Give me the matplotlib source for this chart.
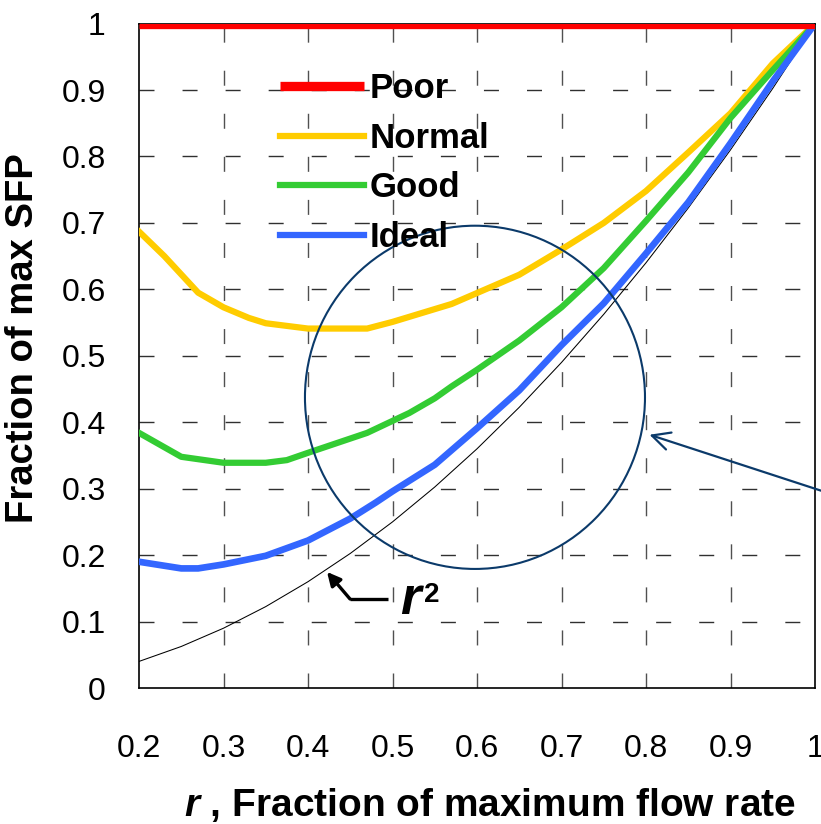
import matplotlib
matplotlib.use("Agg")
import matplotlib.pyplot as plt
from matplotlib.patches import Ellipse

plt.rcParams['font.family'] = ['Liberation Sans', 'DejaVu Sans']
plt.rcParams['mathtext.fontset'] = 'custom'
plt.rcParams['mathtext.bfit'] = 'Liberation Sans:bold:italic'
plt.rcParams['mathtext.it'] = 'Liberation Sans:italic'
plt.rcParams['mathtext.rm'] = 'Liberation Sans'
plt.rcParams['mathtext.bf'] = 'Liberation Sans:bold'

# ---- data ----
poor_x = [0.2, 1.0]
poor_y = [1.0, 1.0]

normal_x = [0.2, 0.23, 0.27, 0.3, 0.33, 0.35, 0.4, 0.47, 0.5, 0.57, 0.65, 0.7, 0.75, 0.8, 0.85, 0.9, 0.95, 1.0]
normal_y = [0.687, 0.650, 0.595, 0.573, 0.557, 0.549, 0.541, 0.541, 0.551, 0.578, 0.622, 0.660, 0.700, 0.748, 0.806, 0.865, 0.940, 1.0]

good_x = [0.2, 0.25, 0.3, 0.35, 0.375, 0.4, 0.47, 0.5, 0.52, 0.55, 0.57, 0.6, 0.65, 0.7, 0.75, 0.8, 0.85, 0.9, 0.95, 1.0]
good_y = [0.384, 0.348, 0.339, 0.339, 0.343, 0.354, 0.384, 0.402, 0.414, 0.436, 0.454, 0.479, 0.523, 0.573, 0.632, 0.703, 0.776, 0.858, 0.930, 1.0]

ideal_x = [0.2, 0.25, 0.27, 0.3, 0.35, 0.4, 0.45, 0.48, 0.5, 0.55, 0.6, 0.65, 0.7, 0.75, 0.8, 0.85, 0.9, 0.95, 1.0]
ideal_y = [0.190, 0.180, 0.180, 0.186, 0.199, 0.222, 0.255, 0.279, 0.296, 0.336, 0.391, 0.448, 0.516, 0.579, 0.654, 0.731, 0.820, 0.913, 1.0]

r2_x = [0.2, 0.25, 0.3, 0.35, 0.4, 0.45, 0.5, 0.55, 0.6, 0.65, 0.7, 0.75, 0.8, 0.85, 0.9, 0.95, 1.0]
r2_y = [0.04, 0.0625, 0.09, 0.1225, 0.16, 0.2025, 0.25, 0.3025, 0.36, 0.4225, 0.49, 0.5625, 0.64, 0.7225, 0.81, 0.9025, 1.0]

x_ticks = [0.2, 0.3, 0.4, 0.5, 0.6, 0.7, 0.8, 0.9, 1.0]
x_tick_labels = ['0.2', '0.3', '0.4', '0.5', '0.6', '0.7', '0.8', '0.9', '1']
y_ticks = [0.0, 0.1, 0.2, 0.3, 0.4, 0.5, 0.6, 0.7, 0.8, 0.9, 1.0]
y_tick_labels = ['0', '0.1', '0.2', '0.3', '0.4', '0.5', '0.6', '0.7', '0.8', '0.9', '1']

series_labels = ['Poor', 'Normal', 'Good', 'Ideal']
series_colors = ['#ff0000', '#ffcc00', '#33cc33', '#3366ff']

W, H = 821, 824
fig = plt.figure(figsize=(W / 100, H / 100), dpi=100)
L, R, T, B = 139, 815, 23.6, 688
ax = fig.add_axes([L / W, 1 - B / H, (R - L) / W, (B - T) / H])
ax.set_xlim(0.2, 1.0)
ax.set_ylim(0.0, 1.0)

# grid
for xv in x_ticks[1:-1]:
    ax.axvline(xv, color='#505050', lw=1.0, dashes=(10.8, 20.2), zorder=1)
for yv in y_ticks[1:-1]:
    ax.axhline(yv, color='#303030', lw=1.0, dashes=(10.8, 20.2), zorder=1)

ax.plot(r2_x, r2_y, color='black', lw=0.75, zorder=2)
lp, = ax.plot(poor_x, poor_y, color=series_colors[0], lw=6.7, zorder=4, solid_capstyle='butt')
ln, = ax.plot(normal_x, normal_y, color=series_colors[1], lw=4.5, zorder=3)
lg, = ax.plot(good_x, good_y, color=series_colors[2], lw=4.5, zorder=3)
li, = ax.plot(ideal_x, ideal_y, color=series_colors[3], lw=4.8, zorder=3)

# circle highlight
circ = Ellipse((0.5976, 0.4375), 0.4024, 0.5166, fill=False, edgecolor='#0b3a6a', lw=1.5, zorder=5)
ax.add_patch(circ)

# arrow pointing at circle
ax.annotate('', xy=(0.801, 0.3825), xytext=(1.012, 0.295),
            arrowprops=dict(arrowstyle='->', color='#0b3a6a', lw=1.6, mutation_scale=32),
            annotation_clip=False, zorder=6)

# r^2 label with elbow arrow
ax.plot([0.4947, 0.4497], [0.134, 0.134], color='black', lw=2.4, solid_capstyle='butt', zorder=6)
ax.annotate('', xy=(0.4225, 0.1747), xytext=(0.4497, 0.134),
            arrowprops=dict(arrowstyle='-|>', color='black', lw=2.4, mutation_scale=20,
                            shrinkA=0, shrinkB=0), zorder=6)
ax.text(0.2 + (400 - 139) / 845, (688 - 614) / 664, 'r', fontsize=38, fontweight='bold',
        fontstyle='italic', ha='left', va='baseline', zorder=6)
ax.text(0.2 + (424 - 139) / 845, (688 - 582) / 664, '2', fontsize=20, fontweight='bold',
        ha='left', va='top', zorder=6)

# legend
leg = ax.legend([lp, ln, lg, li], series_labels, loc='upper left',
                bbox_to_anchor=((280 - L) / (R - L), (B - 72) / (B - T)),
                frameon=False, prop={'family': 'Liberation Sans', 'weight': 'bold', 'size': 25},
                handlelength=2.42, handletextpad=0.17, labelspacing=0.48, borderpad=0, borderaxespad=0)
for h in leg.get_lines():
    h.set_linewidth(4.5)
leg.get_lines()[0].set_linewidth(6.7)

# ticks
ax.set_xticks(x_ticks)
ax.set_xticklabels(x_tick_labels)
ax.set_yticks(y_ticks)
ax.set_yticklabels(y_tick_labels)
ax.tick_params(axis='both', length=0, labelsize=23)
ax.tick_params(axis='x', pad=33)
ax.tick_params(axis='y', pad=24)
for s in ax.spines.values():
    s.set_color('black')
    s.set_linewidth(1.2)

fig.text(490 / W, 1 - 805 / H, r'$\mathbfit{r}$ , Fraction of maximum flow rate',
         fontsize=28, fontweight='bold', ha='center', va='center')
fig.text(23 / W, 1 - 338 / H, 'Fraction of max SFP', fontsize=27.5, fontweight='bold',
         rotation=90, ha='center', va='center')

fig.savefig('out.png', dpi=100)
